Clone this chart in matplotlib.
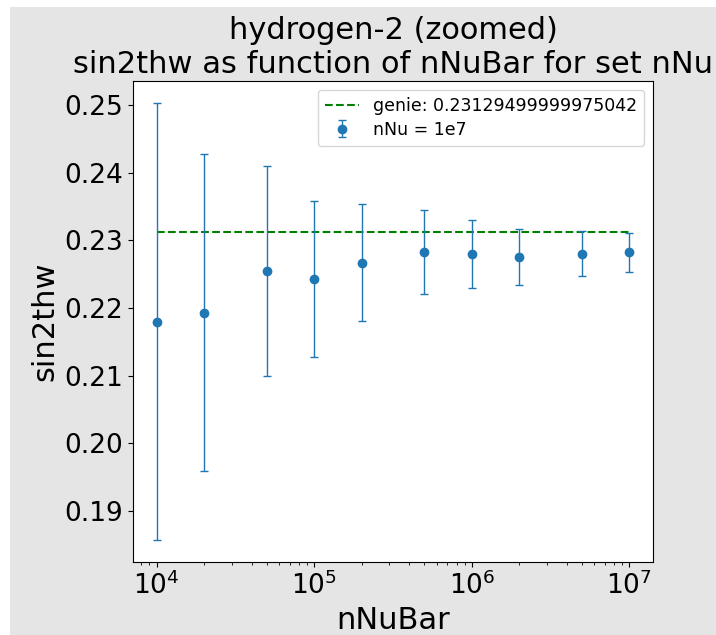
import numpy as np
import matplotlib
matplotlib.use('Agg')
import matplotlib.pyplot as plt
from matplotlib.patches import Rectangle

# datos
nNuBar = [1e4, 2e4, 5e4, 1e5, 2e5, 5e5, 1e6, 2e6, 5e6, 1e7]
sin2thw = [0.2180, 0.2193, 0.2254, 0.2243, 0.2267, 0.2283, 0.2280, 0.2275, 0.2280, 0.2282]
err = [0.0323, 0.0234, 0.0155, 0.0115, 0.0087, 0.0062, 0.0050, 0.0041, 0.0033, 0.0029]
genie = 0.23129499999975042

fig = plt.figure(figsize=(7.16, 6.35), dpi=100, facecolor='white')
# fondo gris como en la captura
fig.patches.append(Rectangle((10/716, 0), 1, 1 - 7/635, transform=fig.transFigure,
                             facecolor='#e5e5e5', edgecolor='none', zorder=-1))
ax = fig.add_axes([133/716, 73/635, 520/716, 481/635])

ax.hlines(genie, nNuBar[0], nNuBar[-1], colors='g', linestyles='--',
          linewidth=1.5, label='genie: ' + str(genie))
ax.errorbar(nNuBar, sin2thw, yerr=err, fmt='o', capsize=3, elinewidth=1,
            capthick=1, label='nNu = 1e7')

ax.set_xscale('log')
ax.set_xlabel('nNuBar', fontsize=22)
ax.set_ylabel('sin2thw', fontsize=22)
ax.set_title('hydrogen-2 (zoomed)\nsin2thw as function of nNuBar for set nNu', fontsize=22)
ax.tick_params(labelsize=19)
ax.legend(loc='upper right', fontsize=12.5, labelspacing=0.35)

plt.savefig('out.png', dpi=100)
plt.close()
